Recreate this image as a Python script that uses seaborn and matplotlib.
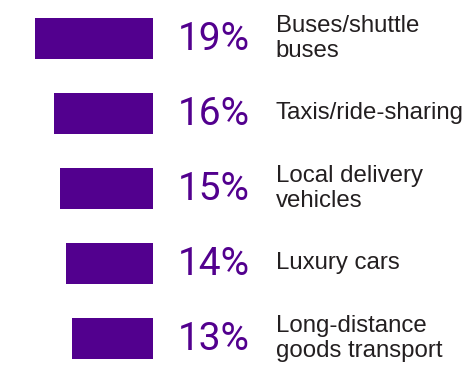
import matplotlib
matplotlib.use("Agg")
import matplotlib.pyplot as plt
import pandas as pd
import seaborn as sns

categories = [
    "Buses/shuttle\nbuses",
    "Taxis/ride-sharing",
    "Local delivery\nvehicles",
    "Luxury cars",
    "Long-distance\ngoods transport",
]
shares = [19, 16, 15, 14, 13]
share_labels = ["19%", "16%", "15%", "14%", "13%"]

df = pd.DataFrame({"category": categories, "share": shares})

purple = "#52008E"
text_dark = "#231F20"

sns.set_theme(style="white")

fig = plt.figure(figsize=(4.73, 3.81), dpi=100)
ax = fig.add_axes([0, 0, 1, 1])

sns.barplot(
    data=df, x="share", y="category", orient="h",
    color=purple, saturation=1, width=0.547, linewidth=0, ax=ax,
)

# bars grow leftwards from a common baseline
ax.set_xlim(24.68, -51.6)
ax.set_ylim(4.567, -0.513)

for i, (lab, cat) in enumerate(zip(share_labels, categories)):
    ax.text(-4.0, i + 0.02, lab, ha="left", va="center", color=purple,
            fontsize=28, family="Roboto", fontweight="normal")
    ax.text(-19.8, i, cat, ha="left", va="center", color=text_dark,
            fontsize=17.3, family="Liberation Sans", linespacing=1.2)

ax.axis("off")

fig.savefig("out.png", dpi=100)
